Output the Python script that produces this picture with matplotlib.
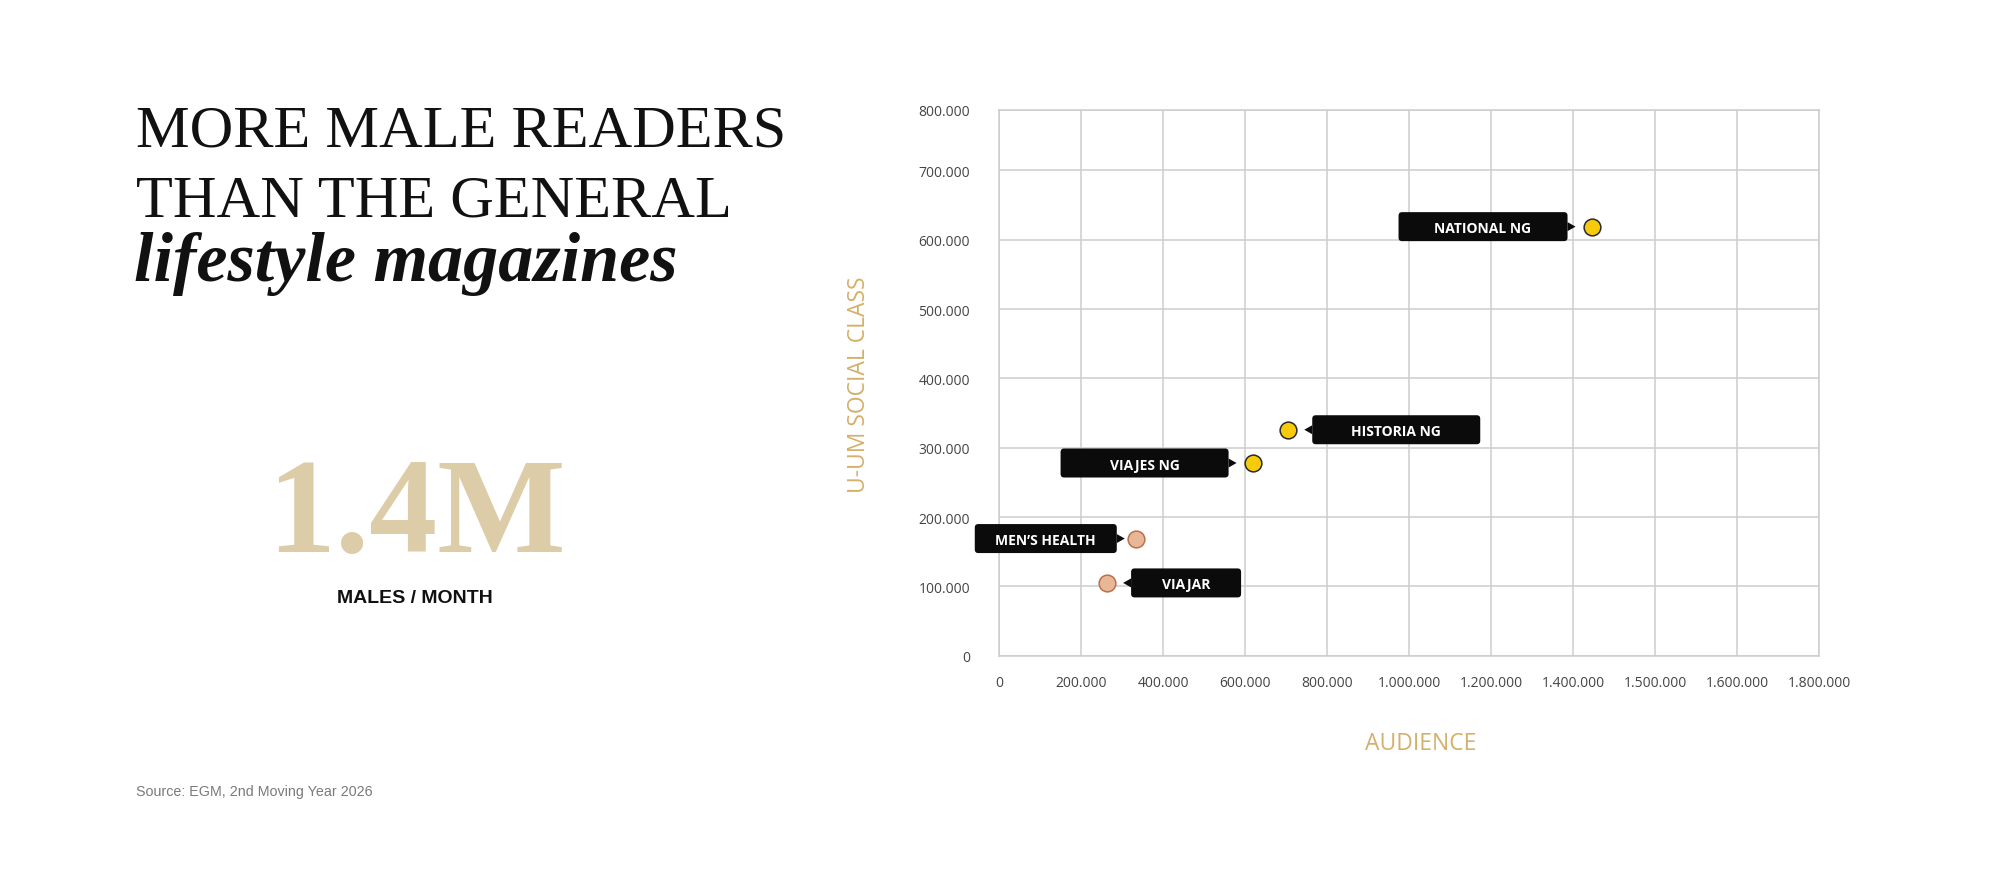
import matplotlib
matplotlib.use("Agg")
import matplotlib.pyplot as plt
from matplotlib.patches import FancyBboxPatch, Polygon
from matplotlib.transforms import ScaledTranslation

# ---------------- data ----------------
names = ["NATIONAL NG", "HISTORIA NG", "VIAJES NG", "MEN\u2019S HEALTH", "VIAJAR"]
audience = [1445000, 705000, 618000, 333000, 263000]
social_class = [619000, 326000, 278000, 169000, 105000]
groups = ["ng", "ng", "ng", "other", "other"]

x_ticks = [0, 200000, 400000, 600000, 800000, 1000000, 1200000, 1400000,
           1600000, 1800000, 2000000]
x_tick_labels = ["0", "200.000", "400.000", "600.000", "800.000", "1.000.000",
                 "1.200.000", "1.400.000", "1.500.000", "1.600.000", "1.800.000"]
y_ticks = [0, 100000, 200000, 300000, 400000, 500000, 600000, 700000, 788000]
y_tick_labels = ["0", "100.000", "200.000", "300.000", "400.000", "500.000",
                 "600.000", "700.000", "800.000"]

# ---------------- styles ----------------
label_side = ["left", "right", "left", "left", "right"]
box_w_px = [169, 168, 168, 142, 110]
gap_px = [24, 24, 24, 19, 24]
box_h_px = 29
fill = {"ng": "#F7CB0C", "other": "#E8B797"}
edge = {"ng": "#2a2a2a", "other": "#B8724C"}
GOLD = "#D4B06A"
SANS = ["Open Sans", "DejaVu Sans"]

W, H, DPI = 2000, 879, 100
fig = plt.figure(figsize=(W / DPI, H / DPI), dpi=DPI)
fig.patch.set_facecolor("white")

# axes placement (pixels)
ax_l, ax_r, ax_t, ax_b = 999.3, 1819.0, 110.5, 656.7
ax = fig.add_axes([ax_l / W, (H - ax_b) / H, (ax_r - ax_l) / W, (ax_b - ax_t) / H])
ax.set_xlim(x_ticks[0], x_ticks[-1])
ax.set_ylim(y_ticks[0], y_ticks[-1])
ax.set_xticks(x_ticks)
ax.set_xticklabels(x_tick_labels)
ax.set_yticks(y_ticks)
ax.set_yticklabels(y_tick_labels)
ax.tick_params(length=0, labelsize=10, colors="#444444")
ax.tick_params(axis="y", pad=21)
ax.tick_params(axis="x", pad=14)
for lab in ax.get_xticklabels() + ax.get_yticklabels():
    lab.set_family(SANS)
ax.grid(True, color="#cdcdcd", linewidth=1.1)
ax.set_axisbelow(True)
for sp in ax.spines.values():
    sp.set_color("#cdcdcd")
    sp.set_linewidth(1.1)

# points
for g in ["ng", "other"]:
    xs = [a for a, gg in zip(audience, groups) if gg == g]
    ys = [s for s, gg in zip(social_class, groups) if gg == g]
    ax.scatter(xs, ys, s=145, c=fill[g], edgecolors=edge[g], linewidths=1.1,
               zorder=5, clip_on=False)

# labels
px = 1.0 / DPI
for i, name in enumerate(names):
    T = fig.dpi_scale_trans + ScaledTranslation(audience[i], social_class[i], ax.transData)
    w = box_w_px[i] * px
    h = box_h_px * px
    g = gap_px[i] * px
    tl, th = 8 * px, 4.5 * px
    if label_side[i] == "left":
        x0 = -(g + w)
        tri = [(-g, th), (-g, -th), (-g + tl, 0)]
    else:
        x0 = g
        tri = [(g, th), (g, -th), (g - tl, 0)]
    box = FancyBboxPatch((x0, -h / 2), w, h,
                         boxstyle="round,pad=0,rounding_size=0.035",
                         facecolor="#0b0b0b", edgecolor="none",
                         transform=T, clip_on=False, zorder=6)
    ax.add_patch(box)
    ax.add_patch(Polygon(tri, closed=True, facecolor="#0b0b0b", edgecolor="none",
                         transform=T, clip_on=False, zorder=6))
    ax.text(x0 + w / 2, 0, name, transform=T, ha="center", va="center_baseline",
            color="white", fontsize=10, fontweight="bold", family=SANS,
            zorder=7, clip_on=False)

# axis titles
fig.text(859 / W, (H - 385) / H, "U-UM SOCIAL CLASS", rotation=90,
         ha="center", va="center", color=GOLD, fontsize=16.5, family=SANS)
fig.text(1421 / W, (H - 743.7) / H, "AUDIENCE", ha="center", va="center",
         color=GOLD, fontsize=16.5, family=SANS)

# headline
SERIF = ["Liberation Serif", "DejaVu Serif"]
fig.text(136 / W, (H - 146.7) / H, "MORE MALE READERS", ha="left", va="baseline",
         fontsize=43.5, family=SERIF, color="#111111")
fig.text(136 / W, (H - 216.7) / H, "THAN THE GENERAL", ha="left", va="baseline",
         fontsize=43.5, family=SERIF, color="#111111")
fig.text(134 / W, (H - 281) / H, "lifestyle magazines", ha="left", va="baseline",
         fontsize=50.5, family=SERIF, fontweight="bold", style="italic",
         color="#111111")

fig.text(416.4 / W, (H - 551.7) / H, "1.4M", ha="center", va="baseline",
         fontsize=98, family=SERIF, fontweight="bold", color="#DDCCA8")
fig.text(415.3 / W, (H - 602.7) / H, "MALES / MONTH", ha="center", va="baseline",
         fontsize=14, family=["Liberation Sans", "DejaVu Sans"],
         fontweight="bold", color="#111111")
fig.text(135.5 / W, (H - 795.8) / H, "Source: EGM, 2nd Moving Year 2026",
         ha="left", va="baseline", fontsize=10.3,
         family=["Liberation Sans", "DejaVu Sans"], color="#7a7a7a")

fig.savefig("out.png", dpi=DPI, facecolor="white")
